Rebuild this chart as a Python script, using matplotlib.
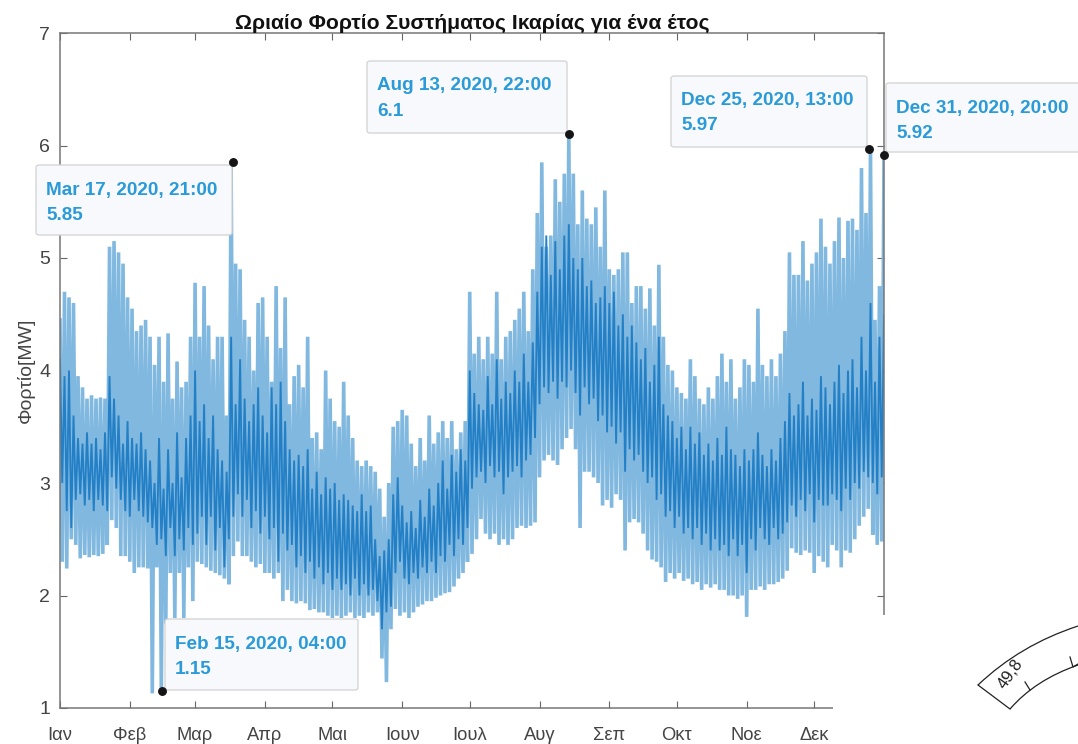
import numpy as np
import matplotlib
matplotlib.use('Agg')
import matplotlib.pyplot as plt
from matplotlib.lines import Line2D
from matplotlib.patches import FancyBboxPatch, PathPatch, Rectangle
from matplotlib.path import Path

plt.rcParams['font.family'] = ['Liberation Sans', 'DejaVu Sans']

months = ['Ιαν', 'Φεβ', 'Μαρ', 'Απρ', 'Μαι', 'Ιουν', 'Ιουλ', 'Αυγ', 'Σεπ', 'Οκτ', 'Νοε', 'Δεκ']
month_days = [0, 31, 60, 91, 121, 152, 182, 213, 244, 274, 305, 335]

# two-day samples of the load (MW)
outer_high = [
    4.45, 4.7, 4.65, 4.6, 3.95, 3.85, 3.75, 3.78, 3.75, 3.76,
    3.75, 5.1, 5.15, 5.05, 4.95, 4.65, 4.55, 4.35, 4.4, 4.45,
    4.3, 4.05, 4.3, 3.9, 4.33, 3.75, 4.08, 3.85, 3.9, 4.3,
    4.78, 4.3, 4.75, 4.4, 4.1, 4.3, 4.3, 3.6, 5.85, 4.95,
    4.9, 4.45, 4.3, 4.0, 4.6, 4.65, 4.3, 3.9, 4.75, 4.2,
    4.65, 3.7, 3.95, 4.05, 3.85, 4.3, 3.4, 3.45, 3.3, 4.0,
    3.75, 3.55, 3.5, 3.9, 3.6, 3.4, 3.2, 3.15, 3.2, 3.15,
    3.1, 2.95, 2.7, 3.0, 3.5, 3.55, 3.65, 3.6, 3.35, 3.15,
    3.4, 3.2, 3.6, 3.35, 3.45, 3.55, 3.4, 3.55, 3.3, 3.45,
    3.55, 4.7, 4.15, 4.3, 4.1, 4.3, 4.15, 4.7, 4.1, 4.3,
    4.35, 4.45, 4.55, 4.7, 4.35, 4.9, 5.4, 5.85, 5.1, 5.2,
    5.7, 5.5, 5.75, 6.1, 5.75, 5.3, 5.6, 5.35, 5.3, 5.45,
    5.1, 5.6, 4.9, 4.85, 4.9, 5.05, 5.05, 4.6, 4.75, 4.75,
    4.55, 4.73, 4.4, 4.94, 4.3, 4.05, 4.0, 3.85, 3.8, 3.75,
    4.1, 3.95, 3.75, 3.7, 3.85, 3.75, 3.95, 4.15, 3.9, 4.1,
    3.75, 3.85, 4.1, 4.05, 3.9, 4.55, 4.05, 3.95, 4.1, 3.95,
    4.15, 4.35, 5.05, 4.85, 4.85, 5.15, 4.8, 4.95, 5.05, 5.35,
    5.1, 4.95, 5.15, 5.36, 5.0, 5.33, 5.35, 5.25, 5.8, 5.4,
    5.97, 4.45, 4.75, 5.92]
outer_low = [
    2.3, 2.24, 2.5, 2.45, 2.33, 2.36, 2.34, 2.36, 2.35, 2.37,
    2.45, 2.67, 2.6, 2.35, 2.35, 2.3, 2.2, 2.25, 2.25, 2.24,
    1.13, 2.25, 1.15, 1.75, 2.2, 1.8, 2.2, 1.8, 2.25, 1.95,
    2.3, 2.28, 2.25, 2.22, 2.2, 2.18, 2.15, 2.1, 2.35, 2.48,
    2.35, 2.35, 2.3, 2.25, 2.28, 2.2, 2.2, 2.15, 2.2, 1.95,
    2.05, 1.95, 1.93, 1.95, 1.93, 1.87, 1.88, 1.85, 1.85, 1.82,
    1.8, 1.82, 1.8, 1.82, 1.85, 1.8, 1.82, 1.8, 1.85, 1.82,
    1.85, 1.44, 1.23, 1.7, 1.88, 1.82, 1.85, 1.8, 1.85, 1.9,
    1.92, 1.95, 1.95, 1.98, 2.0, 2.02, 2.03, 2.08, 2.15, 2.2,
    2.3, 2.37, 2.5, 2.68, 2.55, 2.5, 2.55, 2.45, 2.5, 2.45,
    2.5, 2.6, 2.62, 2.6, 2.62, 2.65, 3.05, 3.2, 3.25, 3.2,
    3.16, 3.3, 3.4, 3.48, 3.3, 2.6, 3.1, 3.1, 3.05, 3.0,
    2.8, 2.85, 2.78, 2.9, 2.85, 2.4, 2.65, 2.68, 2.65, 2.55,
    2.4, 2.32, 2.3, 2.25, 2.12, 2.2, 2.15, 2.2, 2.13, 2.15,
    2.1, 2.12, 2.05, 2.1, 2.07, 2.1, 2.05, 2.05, 2.0, 2.0,
    1.97, 2.0, 1.81, 2.05, 2.05, 2.08, 2.05, 2.1, 2.1, 2.12,
    2.15, 2.22, 2.42, 2.38, 2.36, 2.4, 2.38, 2.2, 2.35, 2.3,
    2.25, 2.45, 2.4, 2.25, 2.4, 2.38, 2.5, 2.62, 2.7, 2.77,
    2.54, 2.45, 2.48, 2.5]
core_high = [
    4.1, 3.95, 4.0, 3.6, 3.4, 3.35, 3.45, 3.35, 3.4, 3.3,
    3.45, 3.95, 3.75, 3.6, 3.35, 3.55, 3.4, 3.35, 3.45, 3.3,
    3.2, 3.0, 3.4, 2.95, 3.3, 3.0, 3.45, 3.05, 3.4, 3.6,
    4.0, 3.55, 3.7, 3.4, 3.6, 3.3, 3.2, 3.1, 4.3, 3.7,
    4.1, 3.75, 3.55, 3.7, 3.85, 3.6, 3.45, 3.85, 3.7, 3.9,
    3.55, 3.3, 3.2, 3.25, 3.15, 3.3, 2.95, 3.1, 2.9, 3.05,
    2.95, 3.0, 2.85, 2.9, 2.85, 2.8, 2.75, 2.9, 2.75, 2.8,
    2.5, 2.35, 2.4, 2.5, 2.9, 3.05, 2.8, 2.65, 2.75, 2.6,
    2.85, 2.7, 2.95, 2.8, 3.0, 3.2, 2.95, 3.25, 3.1, 3.3,
    3.2, 4.0, 3.8, 3.7, 3.65, 3.95, 3.7, 4.1, 3.75, 3.9,
    3.8, 4.0, 3.9, 4.15, 3.9, 4.25, 4.7, 5.1, 5.2, 4.85,
    5.15, 4.9, 5.2, 5.3, 5.0, 4.9, 5.0, 4.75, 4.8, 4.6,
    4.65, 4.75, 4.6, 4.7, 4.4, 4.5, 4.3, 4.4, 4.25, 4.1,
    4.2, 3.9, 4.05, 4.3, 3.7, 3.6, 3.55, 3.4, 3.5, 3.3,
    3.5, 3.35, 3.45, 3.25, 3.35, 3.2, 3.4, 3.25, 3.5, 3.3,
    3.25, 3.15, 3.3, 3.2, 3.3, 3.45, 3.25, 3.15, 3.3, 3.2,
    3.4, 3.55, 3.8, 3.6, 3.7, 3.9, 3.6, 3.75, 3.65, 3.95,
    3.85, 3.7, 3.9, 4.05, 3.8, 4.0, 4.1, 3.85, 4.3, 4.0,
    4.6, 3.9, 4.3, 4.5]
core_low = [
    3.0, 2.75, 2.6, 2.85, 2.9, 2.8, 2.85, 2.75, 2.85, 2.8,
    2.75, 3.05, 2.95, 2.85, 2.75, 2.7, 2.85, 2.75, 2.7, 2.65,
    2.6, 2.45, 2.5, 2.35, 2.6, 2.35, 2.5, 2.4, 2.6, 2.45,
    2.55, 2.7, 2.45, 2.7, 2.4, 2.6, 2.25, 2.5, 2.7, 2.9,
    2.7, 2.85, 2.6, 2.75, 2.55, 2.7, 2.5, 2.6, 2.3, 2.55,
    2.4, 2.45, 2.25, 2.35, 2.2, 2.3, 2.15, 2.25, 2.1, 2.2,
    2.05, 2.15, 2.05, 2.1, 2.0, 2.15, 2.0, 2.1, 2.0, 2.05,
    1.95, 1.7, 1.85, 1.9, 2.2, 2.3, 2.15, 2.1, 2.2, 2.15,
    2.25, 2.2, 2.3, 2.2, 2.35, 2.3, 2.45, 2.35, 2.5, 2.45,
    2.6, 2.95, 3.05, 3.1, 3.0, 3.15, 3.05, 3.1, 2.9, 3.05,
    3.1, 3.15, 3.05, 3.2, 3.25, 3.4, 3.7, 3.85, 3.8, 3.9,
    3.75, 3.9, 3.85, 4.0, 3.8, 3.6, 3.85, 3.7, 3.75, 3.55,
    3.6, 3.45, 3.5, 3.35, 3.45, 3.1, 3.3, 3.2, 3.25, 3.1,
    3.0, 3.05, 2.85, 2.9, 2.7, 2.75, 2.6, 2.7, 2.55, 2.6,
    2.5, 2.6, 2.45, 2.55, 2.4, 2.5, 2.4, 2.45, 2.35, 2.5,
    2.35, 2.45, 2.2, 2.5, 2.4, 2.6, 2.5, 2.45, 2.6, 2.5,
    2.55, 2.65, 2.8, 2.7, 2.85, 2.75, 2.9, 2.65, 2.85, 2.8,
    2.8, 2.9, 2.85, 2.75, 2.95, 2.85, 3.0, 2.95, 3.1, 3.05,
    3.0, 2.9, 3.05, 3.1]

tip_labels = ['Mar 17, 2020, 21:00', 'Feb 15, 2020, 04:00', 'Aug 13, 2020, 22:00',
              'Dec 25, 2020, 13:00', 'Dec 31, 2020, 20:00']
tip_values = [5.85, 1.15, 6.1, 5.97, 5.92]
tip_days = [76.875, 45.167, 225.917, 359.54, 365.83]
tip_text = ['5.85', '1.15', '6.1', '5.97', '5.92']
# box edges in pixels: left, top, right, bottom
tip_boxes = [(36, 165, 232, 235), (165, 619, 358, 690), (367, 61, 567, 133),
             (671, 76, 867, 147), (886, 83, 1082, 152)]

W, H = 1078, 744
TIP_BLUE = '#2a9ad8'


def px(x, y):
    return x / W, 1 - y / H


def zigzag(high, low):
    days = 2 * np.arange(len(high))
    return np.ravel(np.column_stack([days, days + 1])), np.ravel(np.column_stack([high, low]))


fig = plt.figure(figsize=(W / 100, H / 100), dpi=100)
ax = fig.add_axes([60 / W, 1 - 708 / H, (884 - 60) / W, (708 - 33) / H])

x, y = zigzag(outer_high, outer_low)
ax.plot(x, y, color='#80b8df', lw=2.6, solid_joinstyle='bevel')
x, y = zigzag(core_high, core_low)
ax.plot(x, y, color='#2480c6', lw=1.35, solid_joinstyle='bevel')

ax.set_xlim(0, 366)
ax.set_ylim(1, 7)
ax.set_xticks(month_days)
ax.set_xticklabels(months)
ax.set_yticks(range(1, 8))
ax.tick_params(axis='x', direction='in', length=5, width=0.8, color='#666666', top=True,
               labelsize=13.2, labelcolor='#444444', pad=13.5)
ax.tick_params(axis='y', direction='in', length=5, width=0.8, color='#666666', right=True,
               labelsize=14, labelcolor='#444444', pad=7)
for spine in ax.spines.values():
    spine.set_color('#777777')
    spine.set_linewidth(1.1)
ax.set_ylabel('Φορτίο[MW]', fontsize=14, color='#444444', labelpad=3)
ax.set_title('Ωριαίο Φορτίο Συστήματος Ικαρίας για ένα έτος', fontsize=15.2, fontweight='bold',
             pad=3, color='#111111')

# white block pasted over the lower right corner of the plot
fig.add_artist(Rectangle(px(833, 744), (W - 833) / W, (744 - 615) / H, transform=fig.transFigure,
                         fc='white', ec='none', zorder=5))

for label, value, box, day, val in zip(tip_labels, tip_text, tip_boxes, tip_days, tip_values):
    left, top, right, bottom = box
    x0, y0 = px(left, bottom)
    fig.add_artist(FancyBboxPatch((x0, y0), (right - left) / W, (bottom - top) / H,
                                  boxstyle='round,pad=0,rounding_size=0.003', transform=fig.transFigure,
                                  fc='#f8f9fc', ec='#d2d2d2', lw=0.9, zorder=6))
    tx, ty = px(left + 10, top + 25)
    fig.text(tx, ty, label, color=TIP_BLUE, fontsize=13.6, fontweight='bold', va='center', zorder=7)
    tx, ty = px(left + 10, top + 50)
    fig.text(tx, ty, value, color=TIP_BLUE, fontsize=13.6, fontweight='bold', va='center', zorder=7)
    fig.add_artist(Line2D([day], [val], marker='o', ms=5.4, color='#151515', ls='none',
                          transform=ax.transData, zorder=8))

# stray hand drawing at the right edge
sketch_codes = [Path.MOVETO, Path.CURVE3, Path.CURVE3]
for pts in ([(978, 685), (1020, 645), (1078, 626)], [(1010, 709), (1035, 680), (1078, 665)]):
    fig.add_artist(PathPatch(Path([px(*p) for p in pts], sketch_codes), fc='none', ec='#222222', lw=0.9,
                             transform=fig.transFigure, zorder=6))
for seg in ([(978, 685), (1010, 709)], [(1025, 682), (1030, 690)], [(1070, 657), (1073, 667), (1078, 664)]):
    xs, ys = zip(*[px(*p) for p in seg])
    fig.add_artist(Line2D(xs, ys, color='#222222', lw=0.9, transform=fig.transFigure, zorder=6))
tx, ty = px(1011, 674)
fig.text(tx, ty, '49,8', rotation=55, ha='center', va='center', fontsize=12, color='#222222', zorder=6)

fig.savefig('out.png', dpi=100)
